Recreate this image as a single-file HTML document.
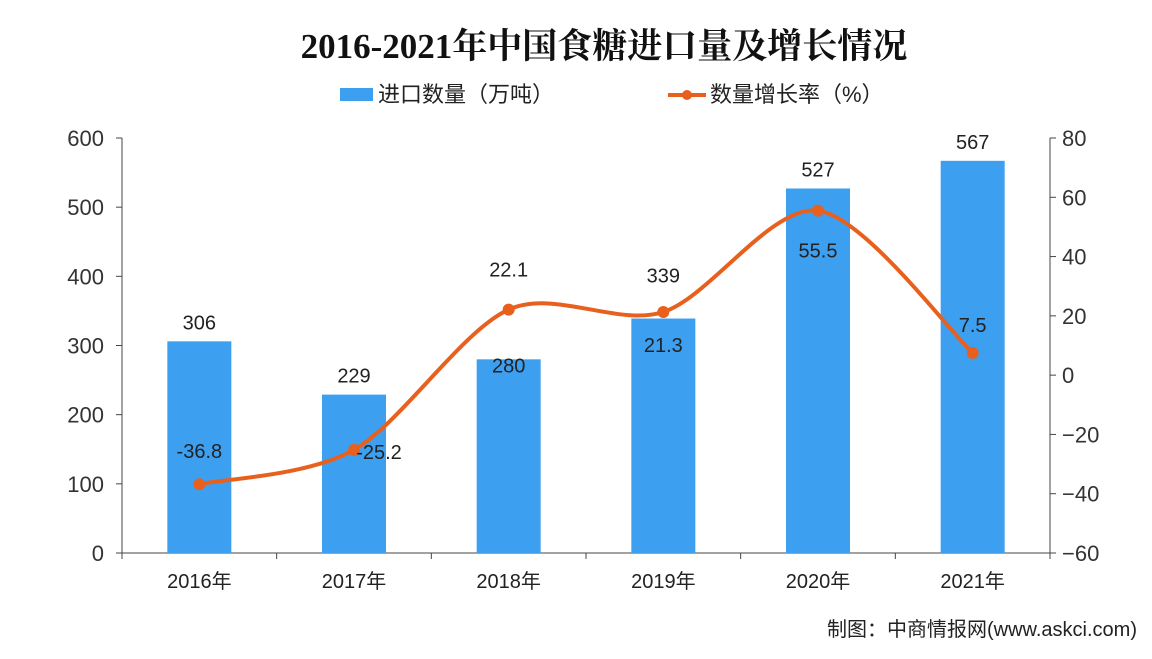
<!DOCTYPE html>
<html><head><meta charset="utf-8"><style>
body{margin:0;background:#fff;width:1152px;height:654px;overflow:hidden}
svg text{font-family:"Liberation Sans","Noto Sans CJK SC",sans-serif}
</style></head><body>
<svg id="c" width="1152" height="654" xmlns="http://www.w3.org/2000/svg">
<text x="604" y="58" text-anchor="middle" font-size="35" font-weight="bold" fill="#111" style="font-family:'Liberation Serif','Noto Serif CJK SC',serif">2016-2021年中国食糖进口量及增长情况</text>
<g>
<rect x="340" y="88" width="33" height="13" fill="#3d9ff0"/>
<text x="378" y="102" font-size="22" fill="#222">进口数量（万吨）</text>
<line x1="668" y1="95" x2="706" y2="95" stroke="#e8601e" stroke-width="4"/>
<circle cx="687" cy="95" r="5" fill="#e8601e"/>
<text x="710" y="102" font-size="22" fill="#222">数量增长率（%）</text>
</g>
<text x="1137" y="636" text-anchor="end" font-size="20" fill="#222">制图：中商情报网(www.askci.com)</text>
</svg>
<script>
const categories=["2016年","2017年","2018年","2019年","2020年","2021年"];
const imports=[306,229,280,339,527,567];
const growth=[-36.8,-25.2,22.1,21.3,55.5,7.5];
const leftTicks=[0,100,200,300,400,500,600];
const rightTicks=[-60,-40,-20,0,20,40,60,80];
const svg=document.getElementById('c');const NS='http://www.w3.org/2000/svg';
const X0=122,X1=1050,Y0=553,Y1=138;
const yL=v=>Y0-(v/600)*(Y0-Y1);
const yR=v=>Y0-((v+60)/140)*(Y0-Y1);
const bw=(X1-X0)/categories.length;
const xc=i=>X0+bw*(i+0.5);
function mk(t,a,txt){const e=document.createElementNS(NS,t);for(const k in a)e.setAttribute(k,a[k]);if(txt!=null)e.textContent=txt;svg.appendChild(e);return e;}
let e;
e=mk('line',{x1:X0,y1:Y1,x2:X0,y2:Y0,stroke:'#444','stroke-width':1});


e=mk('line',{x1:X1,y1:Y1,x2:X1,y2:Y0,stroke:'#444','stroke-width':1});


e=mk('line',{x1:X0,y1:Y0,x2:X1,y2:Y0,stroke:'#444','stroke-width':1});


leftTicks.forEach(v=>{
 mk('line',{x1:X0-6,y1:yL(v),x2:X0,y2:yL(v),stroke:'#444'});
 e=mk('text',{x:X0-18,y:yL(v)+8,'text-anchor':'end','font-size':22,fill:'#333'},v);
 
 
});
rightTicks.forEach(v=>{
 mk('line',{x1:X1,y1:yR(v),x2:X1+6,y2:yR(v),stroke:'#444'});
 e=mk('text',{x:X1+12,y:yR(v)+8,'font-size':22,fill:'#333'},v<0?'\u2212'+(-v):v);
 
 
});
for(let i=0;i<=categories.length;i++)mk('line',{x1:X0+bw*i,y1:Y0,x2:X0+bw*i,y2:Y0+6,stroke:'#444'});
const barLabelOff=[-12,-12,13,-36,-12,-12];
categories.forEach((c,i)=>{
 e=mk('rect',{x:xc(i)-32,y:yL(imports[i]),width:64,height:Y0-yL(imports[i]),fill:'#3d9ff0'});
 
 
 e=mk('text',{x:xc(i),y:yL(imports[i])+barLabelOff[i],'text-anchor':'middle','font-size':20,fill:'#222'},imports[i]);
 
 
 e=mk('text',{x:xc(i),y:Y0+35,'text-anchor':'middle','font-size':20,fill:'#222'},c);
 
 
});
const pts=growth.map((v,i)=>[xc(i),yR(v)]);
let d='M'+pts[0][0]+','+pts[0][1];
for(let i=0;i<pts.length-1;i++){
 const p0=pts[i-1]||pts[i],p1=pts[i],p2=pts[i+1],p3=pts[i+2]||p2,t=0.15;
 d+=` C${p1[0]+(p2[0]-p0[0])*t},${p1[1]+(p2[1]-p0[1])*t} ${p2[0]-(p3[0]-p1[0])*t},${p2[1]-(p3[1]-p1[1])*t} ${p2[0]},${p2[1]}`;
}
e=mk('path',{d:d,fill:'none',stroke:'#e8601e','stroke-width':4});


const off=[[0,-33],[25,2],[0,-40],[0,33],[0,40],[0,-28]];
pts.forEach((p,i)=>{
 e=mk('circle',{cx:p[0],cy:p[1],r:6,fill:'#e8601e'});
 
 
 e=mk('text',{x:p[0]+off[i][0],y:p[1]+off[i][1]+7,'text-anchor':'middle','font-size':20,fill:'#222'},growth[i]);
 
 
});
</script>
</body></html>
